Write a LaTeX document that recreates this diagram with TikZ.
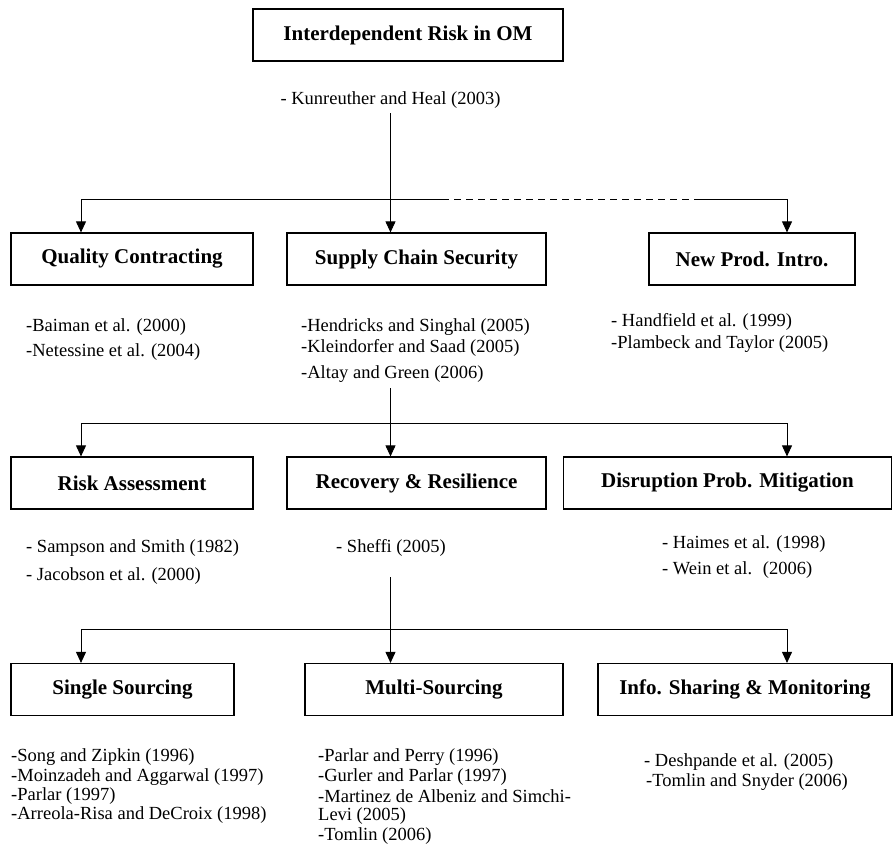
\documentclass[tikz,border=0pt]{standalone}
\usepackage{fontspec}
\setmainfont{Liberation Serif}
\usetikzlibrary{arrows.meta}

\tikzset{
  topic/.style={draw, line width=1.2pt, minimum height=52pt, inner sep=2pt,
    font=\bfseries\fontsize{21}{25}\selectfont},
  ref/.style={anchor=west, inner sep=0pt, font=\fontsize{18.5}{22}\selectfont},
  link/.style={line width=0.9pt},
  down/.style={link, -{Triangle[length=11pt,width=10pt]}}
}

\begin{document}
\begin{tikzpicture}[x=1pt,y=-1pt]
\useasboundingbox (0,0) rectangle (894,849);

% top level
\node[topic, minimum width=310pt] (irom) at (408,35) {Interdependent Risk in OM};
\node[ref, anchor=center] (kh) at (390.5,100) {- Kunreuther and Heal (2003)};

% first row
\node[topic, minimum width=242pt] (qc) at (132,259) {Quality Contracting};
\node[topic, minimum width=259pt] (scs) at (416.5,259) {Supply Chain Security};
\node[topic, minimum width=206pt] (npi) at (752,259) {New Prod. Intro.};

\node[ref] (qc1) at (26,327) {-Baiman et al. (2000)};
\node[ref] (qc2) at (26,352) {-Netessine et al. (2004)};
\node[ref] (scs1) at (301,327) {-Hendricks and Singhal (2005)};
\node[ref] (scs2) at (301,348) {-Kleindorfer and Saad (2005)};
\node[ref] (scs3) at (301,374) {-Altay and Green (2006)};
\node[ref] (npi1) at (611,322) {- Handfield et al. (1999)};
\node[ref] (npi2) at (611,344) {-Plambeck and Taylor (2005)};

% second row
\node[topic, minimum width=242pt] (ra) at (132,483) {Risk Assessment};
\node[topic, minimum width=259pt] (rr) at (416.5,483) {Recovery \& Resilience};
\node[topic, minimum width=328pt] (dpm) at (727.5,483) {Disruption Prob. Mitigation};

\node[ref] (ra1) at (26,548) {- Sampson and Smith (1982)};
\node[ref] (ra2) at (26,576) {- Jacobson et al. (2000)};
\node[ref] (rr1) at (336,548) {- Sheffi (2005)};
\node[ref] (dpm1) at (662,544) {- Haimes et al. (1998)};
\node[ref] (dpm2) at (662,570) {- Wein et al.~ (2006)};

% third row
\node[topic, minimum width=223pt] (ss) at (122.5,689.5) {Single Sourcing};
\node[topic, minimum width=258pt] (ms) at (434,689.5) {Multi-Sourcing};
\node[topic, minimum width=294pt] (ism) at (745,689.5) {Info. Sharing \& Monitoring};

\node[ref] (ss1) at (11,757) {-Song and Zipkin (1996)};
\node[ref] (ss2) at (11,777) {-Moinzadeh and Aggarwal (1997)};
\node[ref] (ss3) at (11,796) {-Parlar (1997)};
\node[ref] (ss4) at (11,815) {-Arreola-Risa and DeCroix (1998)};
\node[ref] (ms1) at (318,757) {-Parlar and Perry (1996)};
\node[ref] (ms2) at (318,777) {-Gurler and Parlar (1997)};
\node[ref] (ms3) at (318,796) {-Martinez de Albeniz and Simchi-};
\node[ref] (ms4) at (318,816) {Levi (2005)};
\node[ref] (ms5) at (318,836) {-Tomlin (2006)};
\node[ref] (ism1) at (644,762) {- Deshpande et al. (2005)};
\node[ref] (ism2) at (646,782) {-Tomlin and Snyder (2006)};

% branch points
\coordinate (t1) at (390.5,113);
\coordinate (t2) at (390.5,388);
\coordinate (t3) at (390.5,577);
\coordinate (j1l) at (81,199);
\coordinate (j1a) at (442,199);
\coordinate (j1b) at (701,199);
\coordinate (j1r) at (787,199);
\coordinate (j2l) at (81,423);
\coordinate (j2r) at (787,423);
\coordinate (j3l) at (81,629);
\coordinate (j3r) at (787,629);

% connectors, first level
\draw[link] (j1l) -- (j1a);
\draw[link, dash pattern=on 7pt off 5pt] (j1a) -- (j1b);
\draw[link] (j1b) -- (j1r);
\draw[down] (j1l) -- (j1l |- qc.north);
\draw[down] (t1) -- (t1 |- scs.north);
\draw[down] (j1r) -- (j1r |- npi.north);

% connectors, second level
\draw[link] (j2l) -- (j2r);
\draw[down] (j2l) -- (j2l |- ra.north);
\draw[down] (t2) -- (t2 |- rr.north);
\draw[down] (j2r) -- (j2r |- dpm.north);

% connectors, third level
\draw[link] (j3l) -- (j3r);
\draw[down] (j3l) -- (j3l |- ss.north);
\draw[down] (t3) -- (t3 |- ms.north);
\draw[down] (j3r) -- (j3r |- ism.north);
\end{tikzpicture}
\end{document}
